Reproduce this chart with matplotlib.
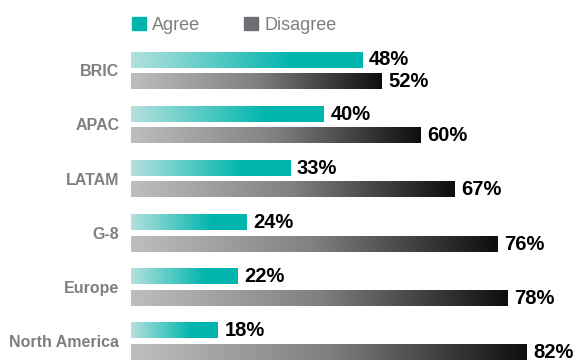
import matplotlib

matplotlib.use("Agg")
import matplotlib.pyplot as plt
import numpy as np
from matplotlib.colors import LinearSegmentedColormap
from matplotlib.patches import Patch

regions = ["BRIC", "APAC", "LATAM", "G-8", "Europe", "North America"]
agree = [48, 40, 33, 24, 22, 18]
disagree = [52, 60, 67, 76, 78, 82]
series_names = ["Agree", "Disagree"]

TEAL = "#00b5ad"
DARK = "#6d6e71"
LABEL_GREY = "#7f7f7f"

teal_cmap = LinearSegmentedColormap.from_list(
    "teal_fade", [(0.0, "#b4e1de"), (0.7, TEAL), (1.0, TEAL)]
)
grey_cmap = LinearSegmentedColormap.from_list(
    "grey_fade", [(0.0, "#bdbec0"), (0.5, "#808083"), (1.0, "#0e0e0e")]
)

plt.rcParams["font.family"] = ["Liberation Sans", "DejaVu Sans"]

fig = plt.figure(figsize=(5.76, 3.63), dpi=100)
ax = fig.add_axes([0.2274, 0.0, 0.7726, 1.0])
ax.axis("off")

ramp = np.linspace(0, 1, 256).reshape(1, -1)
bar_h = 0.28
offset = 0.2


def gradient_bar(y, value, cmap):
    ax.imshow(
        ramp,
        cmap=cmap,
        aspect="auto",
        interpolation="bilinear",
        extent=(0, value, y + bar_h / 2, y - bar_h / 2),
        zorder=2,
    )


for i, (name, a, d) in enumerate(zip(regions, agree, disagree)):
    gradient_bar(i - offset, a, teal_cmap)
    gradient_bar(i + offset, d, grey_cmap)
    ax.text(a + 1.4, i - offset, f"{a}%", ha="left", va="center",
            fontsize=14.5, fontweight="bold", color="black")
    ax.text(d + 1.4, i + offset, f"{d}%", ha="left", va="center",
            fontsize=14.5, fontweight="bold", color="black")
    ax.text(-2.4, i + 0.02, name, ha="right", va="center",
            fontsize=11.5, fontweight="bold", color=LABEL_GREY)

ax.set_xlim(0, 92.3)
ax.set_ylim(5.397, -1.3066)

handles = [Patch(color=TEAL), Patch(color=DARK)]
leg = fig.legend(
    handles, series_names, loc="upper left", bbox_to_anchor=(0.201, 0.998),
    ncol=2, frameon=False, fontsize=13, handlelength=0.75, handleheight=0.75,
    handletextpad=0.35, columnspacing=2.45,
)
for t in leg.get_texts():
    t.set_color(LABEL_GREY)

fig.savefig("out.png", dpi=100)
